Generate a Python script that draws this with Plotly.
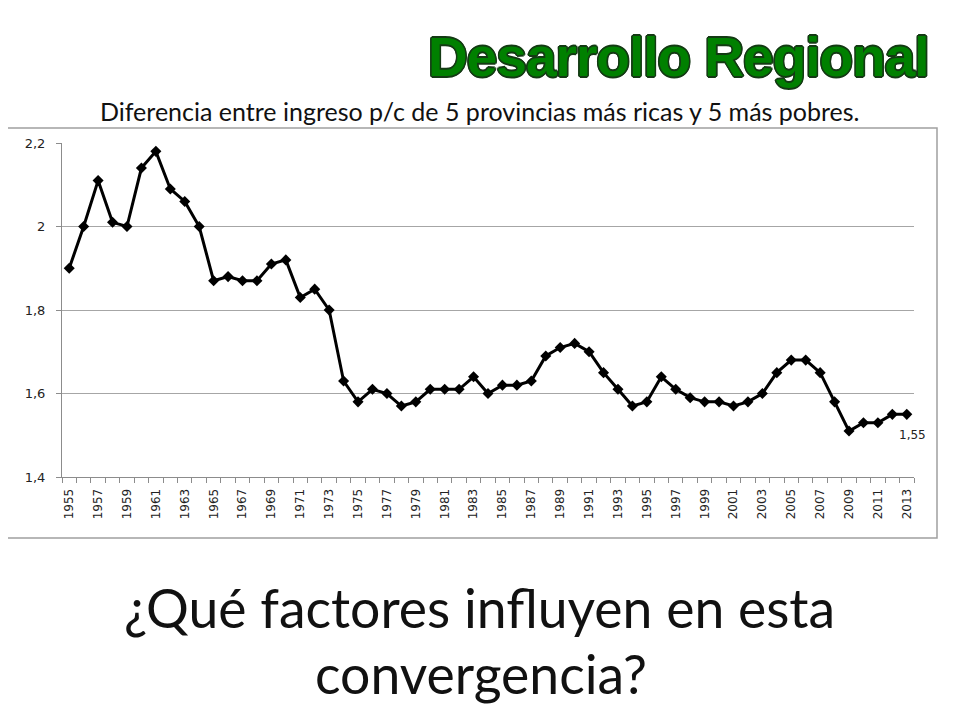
import plotly.graph_objects as go

years = list(range(1955, 2014))
values = [1.90, 2.00, 2.11, 2.01, 2.00, 2.14, 2.18, 2.09, 2.06, 2.00,
          1.87, 1.88, 1.87, 1.87, 1.91, 1.92, 1.83, 1.85, 1.80, 1.63,
          1.58, 1.61, 1.60, 1.57, 1.58, 1.61, 1.61, 1.61, 1.64, 1.60,
          1.62, 1.62, 1.63, 1.69, 1.71, 1.72, 1.70, 1.65, 1.61, 1.57,
          1.58, 1.64, 1.61, 1.59, 1.58, 1.58, 1.57, 1.58, 1.60, 1.65,
          1.68, 1.68, 1.65, 1.58, 1.51, 1.53, 1.53, 1.55, 1.55]
label_years = years[::2]
label_text = [str(y) for y in label_years]
y_ticks = [1.4, 1.6, 1.8, 2.0, 2.2]
y_ticktext = ["1,4", "1,6", "1,8", "2", "2,2"]

title = "Desarrollo Regional"
subtitle = "Diferencia entre ingreso p/c de 5 provincias más ricas y 5 más pobres."
question1 = "¿Qué factores influyen en esta"
question2 = "convergencia?"
last_label = "1,55"

# page body has an 8px margin; work in window pixels
O = 8
L, R, T, B = 62, 914, 143, 477
def px(x):
    return (x - L) / (R - L)
def py(y):
    return (B - y) / (B - T)

fig = go.Figure()
fig.add_trace(go.Scatter(
    x=years, y=values, mode="lines+markers",
    line=dict(color="black", width=3),
    marker=dict(symbol="diamond", size=8.5, color="black"),
    showlegend=False, hoverinfo="x+y",
))

minor_vals = [y - 0.5 for y in years] + [years[-1] + 0.5]

outline = "#143a14"
shadow = ", ".join([
    f"1.6px 0 0 {outline}", f"-1.6px 0 0 {outline}", f"0 1.6px 0 {outline}", f"0 -1.6px 0 {outline}",
    f"1.2px 1.2px 0 {outline}", f"-1.2px -1.2px 0 {outline}",
    f"1.2px -1.2px 0 {outline}", f"-1.2px 1.2px 0 {outline}",
])

fig.update_layout(
    width=960 - O, height=720 - O,
    margin=dict(l=L - O, r=960 - R, t=T - O, b=720 - B),
    paper_bgcolor="white", plot_bgcolor="white",
    font=dict(family="DejaVu Sans", color="#222222"),
    xaxis=dict(
        range=[years[0] - 0.5, years[-1] + 0.5],
        tickmode="array", tickvals=label_years, ticktext=label_text,
        tickangle=-90, ticks="", showgrid=False, zeroline=False,
        showline=True, linecolor="#8c8c8c", linewidth=1,
        tickfont=dict(family="DejaVu Sans", size=12, color="#222222"),
        minor=dict(tickmode="array", tickvals=minor_vals, ticks="outside",
                   ticklen=5, tickcolor="#8c8c8c", tickwidth=1, showgrid=False),
        ticklabelstandoff=6,
    ),
    yaxis=dict(
        range=[1.4, 2.2], tickmode="array", tickvals=y_ticks, ticktext=y_ticktext,
        ticks="outside", ticklen=5, tickcolor="#8c8c8c",
        showgrid=True, gridcolor="#a6a6a6", gridwidth=1.2, zeroline=False,
        showline=True, linecolor="#8c8c8c", linewidth=1,
        tickfont=dict(family="DejaVu Sans", size=13, color="#222222"),
        ticklabelstandoff=8,
    ),
    shapes=[dict(type="rect", xref="paper", yref="paper",
                 x0=px(2), x1=px(937), y0=py(538), y1=py(128),
                 line=dict(color="#a0a0a0", width=1.5), layer="below")],
    annotations=[
        dict(text='<span style="letter-spacing:-1px">' + title + '</span>',
             xref="paper", yref="paper", x=px(931), y=py(57),
             xanchor="right", yanchor="middle", showarrow=False,
             font=dict(family="Liberation Sans", size=55, weight="bold",
                       color="#008000", shadow=shadow)),
        dict(text=subtitle, xref="paper", yref="paper", x=px(480), y=py(111),
             xanchor="center", yanchor="middle", showarrow=False,
             font=dict(family="Lato", size=25, color="#111111")),
        dict(text=question1, xref="paper", yref="paper", x=px(479), y=py(607),
             xanchor="center", yanchor="middle", showarrow=False,
             font=dict(family="Lato", size=53.5, color="#111111")),
        dict(text=question2, xref="paper", yref="paper", x=px(481), y=py(673),
             xanchor="center", yanchor="middle", showarrow=False,
             font=dict(family="Lato", size=53.5, color="#111111")),
        dict(text=last_label, x=years[-1], y=values[-1], xref="x", yref="y",
             showarrow=False, xshift=6, yshift=-21,
             font=dict(family="DejaVu Sans", size=12, color="#222222")),
    ],
)

fig.write_html("out.html")
